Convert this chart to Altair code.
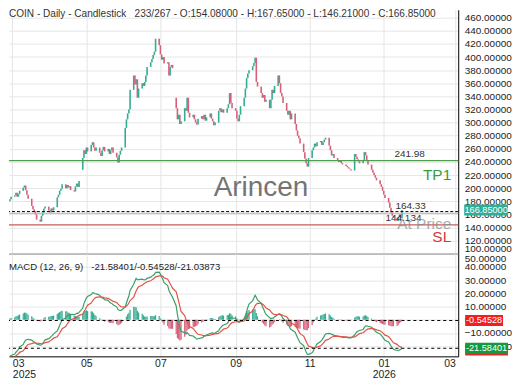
import altair as alt
import pandas as pd

# ---------------- data ----------------
start_date = "2025-02-27"
first_open = 180.0
closes = [
    183, 187,
    189, 193, 187, 191, 196,
    201, 204, 197, 190, 184,
    173, 168, 165, 160, 152,
    149, 158, 163, 169, 172,
    166, 163, 169, 166, 171,
    186, 190, 196, 199, 206,
    200, 205, 201, 203, 197,
    195, 203, 207, 202, 211,
    246, 258, 252, 262, 256,
    266, 270, 262, 257, 262,
    254, 249, 258, 263, 256,
    260, 252, 258, 262, 254,
    247, 239, 251, 257, 262,
    292, 305, 314, 320, 350,
    372, 358, 366, 338, 352,
    360, 356, 362, 372, 385,
    392, 397, 403, 408, 428,
    418, 404, 396, 400, 390,
    392, 372, 385, 388, 383,
    322, 305, 312, 298, 302,
    322, 318, 338, 315, 308,
    312, 305, 300, 297, 306,
    310, 305, 312, 303, 308,
    314, 306, 302, 296, 300,
    318, 322, 316, 320, 315,
    322, 328, 345, 330, 322,
    318, 306, 302, 312, 325,
    338, 352, 368, 375, 380,
    386, 391, 399, 362, 355,
    345, 338, 342, 332, 335,
    322, 335, 350, 345, 356,
    372, 360, 345, 340, 330,
    318, 312, 318, 305, 314,
    298, 288, 280, 276, 268,
    255, 245, 238, 233, 246,
    258, 262, 268, 264, 270,
    272, 266, 270, 274, 277,
    265, 258, 250, 252, 246,
    243, 240, 242, 238, 236,
    234, 232, 230, 229, 227,
    252, 248, 244, 241, 238,
    243, 255, 250, 243, 236,
    228, 224, 220, 216, 212,
    206, 202, 196, 190, 185,
    178, 170, 163, 158, 155,
    150, 156, 160, 154.08, 166.85,
]
gap_opens = {"2025-04-28": 228.0, "2025-07-14": 338.0}
last_high = 167.65
last_low = 146.21

tp_level = 241.98
entry_level = 164.33
at_price_level = 161.8
sl_level = 144.134

macd_last = -21.58401
hist_last = -0.54528
signal_last = -21.03873
# indicator state at the first visible bar
ema12_start, ema26_start, signal_start = 207.0, 235.0, -29.0

price_ticks = [100, 120, 140, 160, 180, 200, 220, 240, 260, 280, 300, 320,
               340, 360, 380, 400, 420, 440, 460]
macd_ticks = [-20, -10, 0, 10, 20, 30, 40, 50]
month_ticks = [(2025, 3), (2025, 5), (2025, 7), (2025, 9), (2025, 11),
               (2026, 1), (2026, 3)]

# ---------------- table ----------------
dates = pd.bdate_range(start_date, periods=len(closes))
date_str = [d.strftime("%Y-%m-%d") for d in dates]
opens = []
for i, ds in enumerate(date_str):
    prev = closes[i - 1] if i > 0 else first_open
    opens.append(gap_opens.get(ds, prev))

e12, e26, sig = ema12_start, ema26_start, signal_start
macd, signal, hist = [], [], []
for c in closes:
    e12 += (c - e12) * 2 / 13
    e26 += (c - e26) * 2 / 27
    m = e12 - e26
    sig += (m - sig) * 0.2
    macd.append(m)
    signal.append(sig)
    hist.append(m - sig)

df = pd.DataFrame({
    "date": date_str, "open": opens, "close": closes,
    "macd": macd, "signal": signal, "hist": hist,
})
df["dir"] = ["up" if c >= o else "down" for o, c in zip(opens, closes)]
df["hdir"] = ["pos" if h >= 0 else "neg" for h in hist]

# ---------------- styling ----------------
FONT = "Liberation Sans"
W = 451
H1 = 245
H2 = 103
GRID = "#e6e6e6"
UP, DOWN = "#35ab93", "#d6607a"
SP = "\u00a0"

x_scale = alt.Scale(
    type="utc",
    domain=[alt.DateTime(year=2025, month=2, date=26, hours=6, utc=True),
            alt.DateTime(year=2026, month=3, date=3, hours=8, utc=True)],
)
tick_vals = [alt.DateTime(year=y, month=m, date=1, utc=True) for y, m in month_ticks]
price_scale = alt.Scale(domain=[100, 472.15], zero=False, nice=False)
macd_scale = alt.Scale(domain=[-27.7, 50], zero=False, nice=False)

x_axis_top = alt.Axis(values=tick_vals, labels=False, ticks=False, domain=True,
                      domainColor="#000", grid=True, gridColor=GRID, title=None)
x_axis_bottom = alt.Axis(
    values=tick_vals, ticks=False, domain=True, domainColor="#000", grid=True,
    gridColor=GRID, title=None, labelFontSize=10.5, labelColor="#222",
    labelFont=FONT, labelPadding=2, labelLineHeight=11, labelFlush=6,
    labelOverlap=False,
    labelExpr="[utcFormat(datum.value, '%m'), (utcmonth(datum.value) == 0 || "
              "(utcyear(datum.value) == 2025 && utcmonth(datum.value) == 2)) ? "
              "utcFormat(datum.value, '%Y') : '']",
)


def y_axis(vals):
    return alt.Axis(orient="right", values=vals, format=".5f", title=None,
                    grid=True, gridColor=GRID, domain=True, domainColor="#000",
                    ticks=False, labelPadding=6, labelFontSize=10,
                    labelColor="#222", labelFont=FONT, labelFlush=True,
                    labelOverlap=False, labelSeparation=0)


price_axis = y_axis(price_ticks)
macd_axis = y_axis(macd_ticks)

base = alt.Chart(df)


def ydat(level, scale, axis):
    return alt.YDatum(level, scale=scale, axis=axis)


def hline(level, color, scale, axis, dash=None, width=1.2):
    kw = dict(color=color, strokeWidth=width)
    if dash:
        kw["strokeDash"] = dash
    return alt.Chart().mark_rule(**kw).encode(y=ydat(level, scale, axis))


def label(level, text, xpx, align, dy, color, size, scale, axis, opacity=1.0):
    return alt.Chart().mark_text(
        text=text, align=align, baseline="middle", dy=dy, color=color,
        fontSize=size, font=FONT, opacity=opacity,
    ).encode(x=alt.value(xpx), y=ydat(level, scale, axis))


def box(level, color, x1, x2, scale, axis, off=0.0):
    return alt.Chart().mark_rect(color=color, yOffset=-5.5 + off, y2Offset=5.5 + off).encode(
        x=alt.value(x1), x2=alt.value(x2), y=ydat(level, scale, axis),
        y2=alt.datum(level))


def box_text(level, text, xc, scale, axis):
    return alt.Chart().mark_text(text=text, color="white", fontSize=9.2, font=FONT,
                                 align="center", baseline="middle").encode(
        x=alt.value(xc), y=ydat(level, scale, axis))


# ---------------- price panel ----------------
candles = base.mark_rule(strokeWidth=1.6).encode(
    x=alt.X("date:T", scale=x_scale, axis=x_axis_top),
    y=alt.Y("open:Q", scale=price_scale, axis=price_axis),
    y2="close:Q",
    color=alt.Color("dir:N", scale=alt.Scale(domain=["up", "down"], range=[UP, DOWN]),
                    legend=None),
)

P = dict(scale=price_scale, axis=price_axis)
price_layers = [
    candles,
    hline(tp_level, "#4f9d4f", **P),
    hline(at_price_level, "#b0b0b0", **P),
    hline(entry_level, "#000000", dash=[3, 2], width=1, **P),
    hline(sl_level, "#c95b5b", width=1.4, **P),
    label(tp_level, f"{tp_level:.2f}", 387, "left", -7, "#333", 10, **P),
    label(tp_level, "TP1", 444, "right", 14, "#3a9a3a", 15.5, **P),
    label(entry_level, f"{entry_level:.2f}", 388, "left", -6, "#333", 10, **P),
    label(sl_level, f"{sl_level:.3f}", 378, "left", -7, "#333", 10, **P),
    label(at_price_level, "At Price", 444, "right", 11, "#8a8a8a", 15.5, opacity=0.7, **P),
    label(sl_level, "SL", 444, "right", 12, "#d43a3a", 15.5, **P),
    box(closes[-1], "#2fae98", 457, 501, **P),
    box_text(closes[-1], f"{closes[-1]:.5f}", 479, **P),
    alt.Chart().mark_text(
        text="Arincen", fontSize=28, font=FONT, color="#666", opacity=0.9,
        align="center", baseline="middle").encode(x=alt.value(253), y=alt.value(179)),
    alt.Chart().mark_text(
        text=f"COIN - Daily - Candlestick{SP * 3}{len(closes) + 1}/267 - "
             f"O:{opens[-1]:.5f} - H:{last_high:.5f} - L:{last_low:.5f} - C:{closes[-1]:.5f}",
        fontSize=10.1, font=FONT, color="#333", align="left", baseline="middle").encode(
        x=alt.value(0), y=alt.value(4)),
]
price = alt.layer(*price_layers).properties(width=W, height=H1)

# ---------------- MACD panel ----------------
hist_bars = base.mark_rule(strokeWidth=1.2).encode(
    x=alt.X("date:T", scale=x_scale, axis=x_axis_bottom),
    y=alt.Y("hist:Q", scale=macd_scale, axis=macd_axis),
    y2=alt.datum(0),
    color=alt.Color("hdir:N", scale=alt.Scale(domain=["pos", "neg"],
                                              range=["#5cd65c", "#e04040"]), legend=None),
)
macd_line = base.mark_line(color="#3a9f6a", strokeWidth=1.2, clip=True).encode(
    x=alt.X("date:T", scale=x_scale, axis=x_axis_bottom),
    y=alt.Y("macd:Q", scale=macd_scale, axis=macd_axis))
signal_line = base.mark_line(color="#e05545", strokeWidth=1.2, clip=True).encode(
    x=alt.X("date:T", scale=x_scale, axis=x_axis_bottom),
    y=alt.Y("signal:Q", scale=macd_scale, axis=macd_axis))

M = dict(scale=macd_scale, axis=macd_axis)
macd_layers = [
    hist_bars, macd_line, signal_line,
    hline(hist_last, "#000", dash=[3, 3], width=1, **M),
    hline(macd_last, "#000", dash=[3, 3], width=1, **M),
    box(signal_last, "#e02a2a", 458, 501, off=2.5, **M),
    box(macd_last, "#129a3c", 458, 501, **M),
    box_text(macd_last, f"{macd_last:.5f}", 479.5, **M),
    box(hist_last, "#f02020", 458, 496, **M),
    box_text(hist_last, f"{hist_last:.5f}", 477, **M),
    alt.Chart().mark_text(
        text=f"MACD (12, 26, 9){SP * 3}{macd_last:.5f}/{hist_last:.5f}/{signal_last:.5f}",
        fontSize=9.6, font=FONT, color="#222", align="left", baseline="middle").encode(
        x=alt.value(0), y=alt.value(13)),
]
macd_panel = alt.layer(*macd_layers).properties(width=W, height=H2)

chart = (
    alt.vconcat(price, macd_panel, spacing=0)
    .properties(padding=0, background="white")
    .configure_view(stroke=None)
    .configure_concat(spacing=0)
    .configure_axis(labelOverlap=False)
)

chart.save("out.html", embed_options={"renderer": "svg", "actions": False})
